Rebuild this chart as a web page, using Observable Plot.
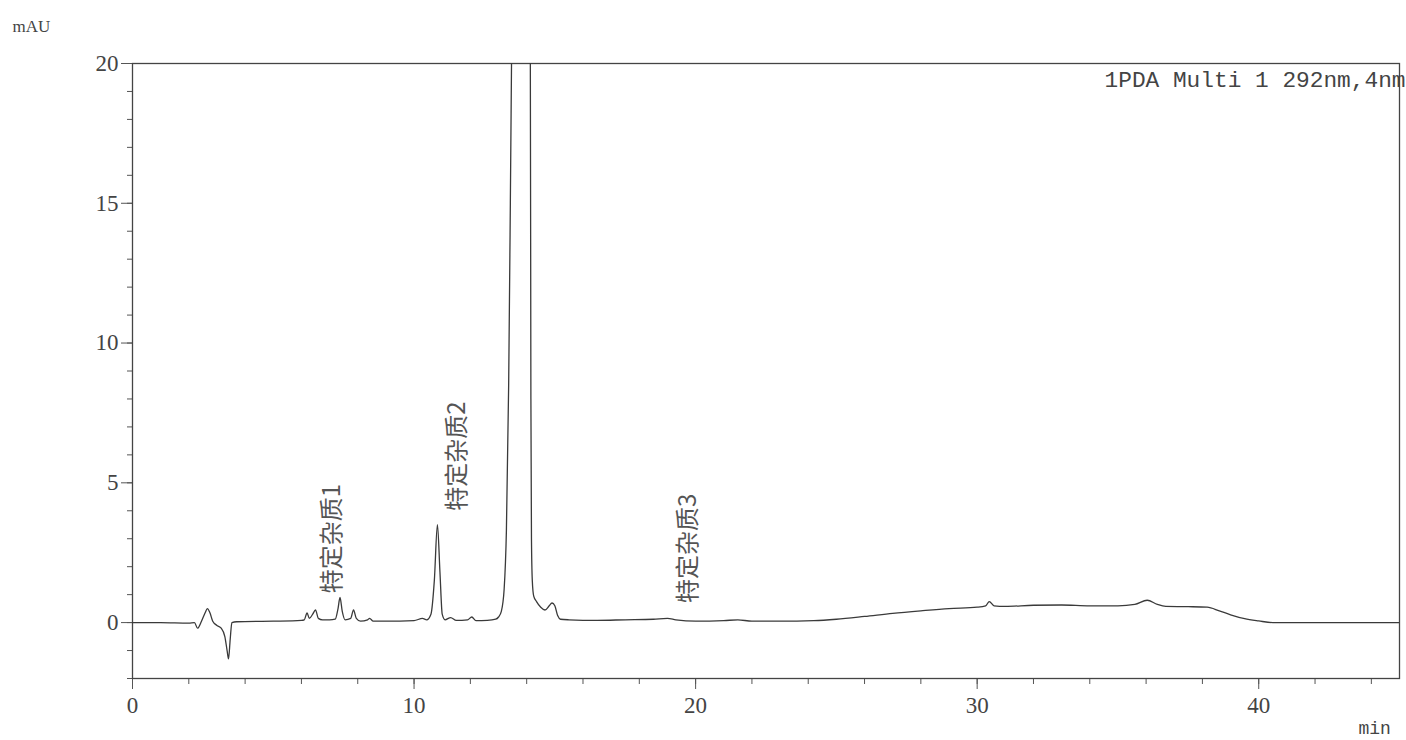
<!DOCTYPE html>
<html>
<head>
<meta charset="utf-8">
<script src="https://cdn.jsdelivr.net/npm/d3@7"></script>
<script src="https://cdn.jsdelivr.net/npm/@observablehq/plot@0.6"></script>
<style>
  html, body { margin: 0; padding: 0; background: #fff; }
  #chart svg { display: block; }
</style>
</head>
<body>
<div id="chart"></div>
<script>
// Retention time (min)
const time = [
  0, 1.0, 2.0, 2.2, 2.31, 2.45, 2.58, 2.66, 2.75, 2.85, 3.0, 3.15, 3.28, 3.36, 3.41, 3.47, 3.53, 3.7,
  5.0, 6.0, 6.1, 6.2, 6.28, 6.4, 6.5, 6.6, 6.75, 7.0, 7.2, 7.3, 7.37, 7.45, 7.55, 7.75, 7.85, 7.95,
  8.1, 8.35, 8.42, 8.55, 9.0, 10.0, 10.3, 10.45, 10.6, 10.72, 10.83, 10.92, 11.0, 11.1, 11.3, 11.5,
  11.9, 12.05, 12.2, 12.6, 12.9, 13.0, 13.1, 13.2, 13.28, 13.36, 13.42, 13.47, 13.6, 13.8, 14.0,
  14.13, 14.15, 14.17, 14.2, 14.25, 14.35, 14.5, 14.65, 14.8, 14.9, 15.0, 15.1, 15.2, 15.5, 16.5,
  17.5, 18.5, 19.0, 19.3, 20.0, 21.0, 21.5, 22.0, 23.0, 24.2, 25.0, 26.0, 27.0, 28.0, 29.0, 30.0,
  30.3, 30.43, 30.6, 31.0, 32.0, 33.0, 34.0, 35.0, 35.6, 36.04, 36.4, 36.7, 37.5, 38.17, 38.6,
  39.0, 39.5, 40.0, 40.5, 42.0, 45.0
];
// Absorbance (mAU)
const signal = [
  0, 0, -0.02, 0, -0.2, 0.05, 0.35, 0.5, 0.35, 0.05, -0.1, -0.2, -0.5, -1.0, -1.3, -0.6, 0.0, 0.03,
  0.05, 0.08, 0.1, 0.35, 0.15, 0.3, 0.45, 0.15, 0.1, 0.1, 0.12, 0.5, 0.9, 0.4, 0.1, 0.15, 0.45, 0.15,
  0.05, 0.1, 0.15, 0.05, 0.05, 0.07, 0.15, 0.1, 0.3, 1.5, 3.5, 1.8, 0.3, 0.1, 0.18, 0.08,
  0.1, 0.2, 0.07, 0.08, 0.12, 0.2, 0.4, 1.2, 3.3, 8.5, 15, 21, 35, 45, 35,
  20, 8, 3, 1.5, 0.95, 0.75, 0.55, 0.45, 0.6, 0.7, 0.6, 0.25, 0.12, 0.1, 0.08,
  0.1, 0.12, 0.15, 0.1, 0.05, 0.07, 0.1, 0.05, 0.05, 0.07, 0.12, 0.22, 0.33, 0.42, 0.5, 0.55,
  0.6, 0.75, 0.6, 0.58, 0.62, 0.63, 0.6, 0.6, 0.65, 0.8, 0.65, 0.58, 0.57, 0.55, 0.42,
  0.28, 0.14, 0.06, 0.0, 0.0, 0.0
];

// Peak annotations
const peakLabels = ["特定杂质1", "特定杂质2", "特定杂质3"];
const peakLabelTimes = [7.1, 11.52, 19.74];
const peakLabelHeights = [1.05, 4.0, 0.7];

// Axis ticks
const xMajorTicks = [0, 10, 20, 30, 40];
const xMinorTicks = [0, 2, 4, 6, 8, 10, 12, 14, 16, 18, 20, 22, 24, 26, 28, 30, 32, 34, 36, 38, 40, 42, 44];
const yMajorTicks = [0, 5, 10, 15, 20];
const yMinorTicks = [-2, -1, 0, 1, 2, 3, 4, 5, 6, 7, 8, 9, 10, 11, 12, 13, 14, 15, 16, 17, 18, 19, 20];

const yUnit = "mAU";
const xUnit = "min";
const channelLabel = "1PDA Multi 1 292nm,4nm";

const trace = time.map((t, i) => ({t, a: signal[i]}));
const labels = peakLabels.map((s, i) => ({s, t: peakLabelTimes[i], a: peakLabelHeights[i]}));

const ink = "#3a3a3a";
const serif = "'Liberation Serif', 'DejaVu Serif', serif";
const mono = "'Liberation Mono', 'DejaVu Sans Mono', monospace";

const chart = Plot.plot({
  width: 1406,
  height: 740,
  marginLeft: 132,
  marginRight: 7,
  marginTop: 63,
  marginBottom: 62,
  x: {domain: [0, 45], label: null},
  y: {domain: [-2, 20], label: null},
  style: {fontFamily: serif, fontSize: "23px", color: ink, background: "#fff"},
  marks: [
    Plot.axisX({ticks: xMinorTicks, tickSize: 6, tickFormat: () => "", label: null, stroke: "#555"}),
    Plot.axisX({ticks: xMajorTicks, tickSize: 11, tickPadding: 7, label: null, stroke: "#555",
                fontSize: 23, fontFamily: serif, fill: "#444"}),
    Plot.axisY({ticks: yMinorTicks, tickSize: 5, tickFormat: () => "", label: null, stroke: "#555"}),
    Plot.axisY({ticks: yMajorTicks, tickSize: 11, tickPadding: 3, label: null, stroke: "#555",
                fontSize: 23, fontFamily: serif, fill: "#444"}),
    Plot.frame({stroke: "#444", strokeWidth: 1.3}),
    Plot.line(trace, {x: "t", y: "a", stroke: ink, strokeWidth: 1.3, clip: true, curve: "monotone-x"}),
    Plot.text(labels, {
      x: "t", y: "a", text: "s", rotate: -90, textAnchor: "start", lineAnchor: "middle",
      fontFamily: "'Noto Sans CJK SC', sans-serif", fontSize: 24, fill: "#555"
    }),
    Plot.text([channelLabel], {
      frameAnchor: "top-right", textAnchor: "end", lineAnchor: "middle", dx: 6, dy: 16,
      fontFamily: mono, fontSize: 22.8, fill: "#444"
    }),
    Plot.text([yUnit], {
      frameAnchor: "top-left", textAnchor: "start", lineAnchor: "middle", dx: -120, dy: -37,
      fontFamily: serif, fontSize: 17, fill: "#444"
    }),
    Plot.text([xUnit], {
      frameAnchor: "bottom-right", textAnchor: "start", lineAnchor: "middle", dx: -41, dy: 50,
      fontFamily: mono, fontSize: 18, fill: "#444"
    })
  ]
});
document.getElementById("chart").appendChild(chart);
</script>
</body>
</html>
